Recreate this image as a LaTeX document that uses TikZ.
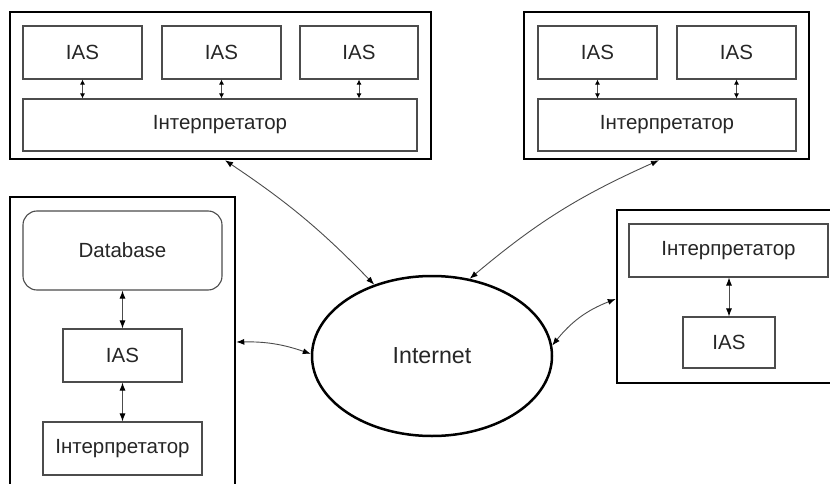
\documentclass[tikz,border=0pt]{standalone}
\usepackage{fontspec}
\setmainfont{Liberation Sans}
\usetikzlibrary{arrows.meta,shapes.geometric}

\tikzset{
  outerbox/.style={draw=black, line width=2.5pt, minimum width=#1, inner sep=0pt},
  unitbox/.style={draw=black!70, line width=1.1pt, fill=white, inner sep=0pt,
    minimum height=53pt, font=\fontsize{20.5}{24}\selectfont, text=black!85},
  dbbox/.style={unitbox, rounded corners=14pt},
  cloud/.style={ellipse, draw=black, line width=2.5pt, inner sep=0pt,
    minimum width=240pt, minimum height=160pt,
    font=\fontsize{23.2}{27}\selectfont, text=black!85},
  link/.style={draw=black!70, line width=0.9pt,
    {Latex[length=8pt,width=6pt,black]}-{Latex[length=8pt,width=6pt,black]}},
  shortlink/.style={draw=black!70, line width=0.9pt,
    {Latex[length=5pt,width=5pt,black]}-{Latex[length=5pt,width=5pt,black]}},
}

\begin{document}
\begin{tikzpicture}[x=1pt, y=1pt]
  \clip (0,0) rectangle (830,-484);
  \fill[white] (0,0) rectangle (830,-484);

  % upper left host: three IAS units over one interpreter
  \node[outerbox=421pt, minimum height=147pt] (tl) at (220.5,-85.5) {};
  \node[unitbox, minimum width=119pt] (ias1) at (82.5,-52.5) {IAS};
  \node[unitbox, minimum width=119pt] (ias2) at (221.5,-52.5) {IAS};
  \node[unitbox, minimum width=118pt] (ias3) at (359,-52.5) {IAS};
  \node[unitbox, minimum width=394pt, minimum height=52pt] (int1) at (220,-125) {Інтерпретатор};
  \draw[shortlink] (ias1.south) -- (ias1.south |- int1.north);
  \draw[shortlink] (ias2.south) -- (ias2.south |- int1.north);
  \draw[shortlink] (ias3.south) -- (ias3.south |- int1.north);

  % upper right host: two IAS units over one interpreter
  \node[outerbox=285pt, minimum height=147pt] (tr) at (666.5,-85.5) {};
  \node[unitbox, minimum width=119pt] (ias4) at (597.5,-52.5) {IAS};
  \node[unitbox, minimum width=119pt] (ias5) at (736.5,-52.5) {IAS};
  \node[unitbox, minimum width=258pt, minimum height=52pt] (int2) at (667,-125) {Інтерпретатор};
  \draw[shortlink] (ias4.south) -- (ias4.south |- int2.north);
  \draw[shortlink] (ias5.south) -- (ias5.south |- int2.north);

  % lower left host: database, IAS, interpreter
  \node[outerbox=225pt, minimum height=300pt] (lb) at (122.5,-347) {};
  \node[dbbox, minimum width=199pt, minimum height=79pt] (db) at (122.5,-250.5) {Database};
  \node[unitbox, minimum width=119pt] (ias6) at (122.5,-355.5) {IAS};
  \node[unitbox, minimum width=159pt] (int3) at (122.5,-448.5) {Інтерпретатор};
  \draw[link] (db.south) -- (ias6.north);
  \draw[link] (ias6.south) -- (int3.north);

  % lower right host: interpreter over IAS
  \node[outerbox=223pt, minimum height=173pt] (rb) at (728.5,-296.5) {};
  \node[unitbox, minimum width=199pt] (int4) at (728.5,-250.5) {Інтерпретатор};
  \node[unitbox, minimum width=92pt, minimum height=51pt] (ias7) at (729,-342.5) {IAS};
  \draw[link] (int4.south -| ias7.north) -- (ias7.north);

  % the network in the middle
  \node[cloud] (net) at (432,-356) {Internet};

  % links between the hosts and the network
  \draw[link] ([xshift=4.5pt]tl.south) to[bend left=6] (net.129);
  \draw[link] ([xshift=-7.5pt]tr.south) to[bend right=8] (net.64);
  \draw[link] ([yshift=5pt]lb.east) to[bend left=10] (net.179);
  \draw[link] (net.5) to[bend left=15] ([yshift=-2.5pt]rb.west);
\end{tikzpicture}
\end{document}
